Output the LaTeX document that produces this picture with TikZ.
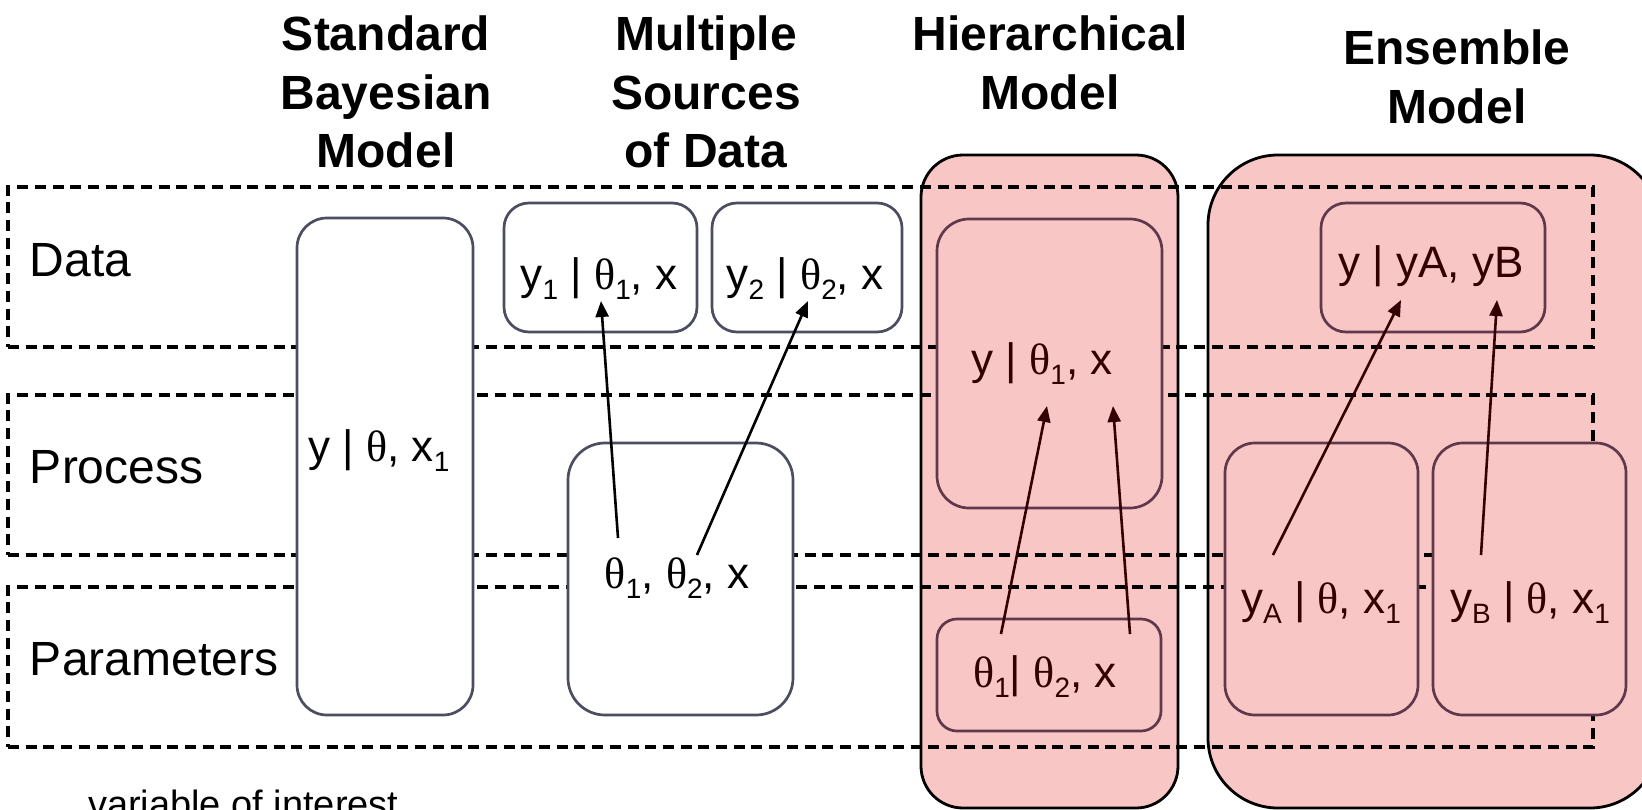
\documentclass[tikz,border=0pt]{standalone}
\usepackage{fontspec}
\setmainfont{Liberation Sans}
\newfontfamily\thfont{Liberation Serif}
\usetikzlibrary{arrows.meta,calc}
\definecolor{boxline}{RGB}{75,77,96}
\definecolor{pinkfill}{RGB}{249,198,198}
\definecolor{pinkline}{RGB}{96,56,76}
\definecolor{pinktext}{RGB}{50,0,0}
\newcommand{\thet}{{\thfont θ}}
\newcommand{\lsub}[1]{\raisebox{-10pt}{\fontsize{28}{28}\selectfont #1}}
\begin{document}
\begin{tikzpicture}[x=1pt,y=-1pt,
  every node/.style={inner sep=0pt,outer sep=0pt},
  lbl/.style={font=\fontsize{48}{57.6}\selectfont, anchor=base west},
  ttl/.style={font=\fontsize{48}{58.5}\selectfont\bfseries, align=center, anchor=north},
  band/.style={draw=black,line width=3.2pt,dash pattern=on 11pt off 6.7pt,rectangle,anchor=north west},
  wbox/.style={draw=boxline,fill=white,line width=2.7pt,rectangle,rounded corners=#1},
  bigbox/.style={draw=black,fill=pinkfill,line width=2.8pt,rectangle,rounded corners=#1},
  pbox/.style={draw=pinkline,fill=pinkfill,line width=2.7pt,rectangle,rounded corners=#1},
  btxt/.style={font=\fontsize{44}{52}\selectfont,anchor=base},
  ptxt/.style={btxt,text=pinktext},
  arr/.style={-{Triangle[length=16pt,width=13pt]},line width=2.6pt,draw=black,fill=black},
  parr/.style={arr,draw=pinktext,fill=pinktext}]
\useasboundingbox (0,0) rectangle (1642,809);
\fill[white] (0,0) rectangle (1642,809);
% big model containers
\node[bigbox=42pt, minimum width=257pt, minimum height=653pt] (hbig) at (1049.5,481.5) {};
\node[bigbox=70pt, minimum width=452pt, minimum height=653pt] (ebig) at (1434,481.5) {};
% dashed bands
\node[band, minimum width=1585pt, minimum height=160pt] (dband) at (8,187) {};
\node[band, minimum width=1585pt, minimum height=160pt] (pband) at (8,395) {};
\node[band, minimum width=1585pt, minimum height=160pt] (paband) at (8,587) {};
% band labels
\node[lbl] (ldata) at (30,276) {Data};
\node[lbl] (lproc) at (30,483) {Process};
\node[lbl] (lpar) at (30,675) {Parameters};
% titles
\node[ttl] (t1) at (386,16) {Standard\\Bayesian\\Model};
\node[ttl] (t2) at (706,16) {Multiple\\Sources\\of Data};
\node[ttl] (t3) at (1050,16) {Hierarchical\\Model};
\node[ttl] (t4) at (1457,30) {Ensemble\\Model};
% white boxes
\node[wbox=30pt, minimum width=176pt, minimum height=497pt] (sb) at (385,466.5) {};
\node[wbox=25pt, minimum width=193pt, minimum height=129pt] (y1b) at (600.5,267.5) {};
\node[wbox=25pt, minimum width=190pt, minimum height=129pt] (y2b) at (807,267.5) {};
\node[wbox=37pt, minimum width=225pt, minimum height=272pt] (thb) at (680.5,579) {};
% pink inner boxes
\node[pbox=32pt, minimum width=225pt, minimum height=289pt] (hin1) at (1049.5,363.5) {};
\node[pbox=20pt, minimum width=224pt, minimum height=112pt] (hin2) at (1049,675) {};
\node[pbox=25pt, minimum width=224pt, minimum height=129pt] (eyb) at (1433,267.5) {};
\node[pbox=30pt, minimum width=193pt, minimum height=272pt] (eab) at (1321.5,579) {};
\node[pbox=30pt, minimum width=193pt, minimum height=272pt] (ebb) at (1529.5,579) {};
% box texts
\node[btxt] (sbt) at (379,461) {y | \thet, x\lsub{1}};
\node[btxt] (y1t) at (599,289) {y\lsub{1} | \thet\lsub{1}, x};
\node[btxt] (y2t) at (805,289) {y\lsub{2} | \thet\lsub{2}, x};
\node[btxt] (tht) at (677,588) {\thet\lsub{1}, \thet\lsub{2}, x};
\node[ptxt] (hyt) at (1042,374) {y | \thet\lsub{1}, x};
\node[ptxt] (htt) at (1045,687) {\thet\lsub{1}| \thet\lsub{2}, x};
\node[ptxt] (eyt) at (1431,277) {y | yA, yB};
\node[ptxt] (eat) at (1321,613) {y\lsub{A} | \thet, x\lsub{1}};
\node[ptxt] (ebt) at (1530,613) {y\lsub{B} | \thet, x\lsub{1}};
% arrows
\draw[arr] ([shift={(-59,-50)}]tht.base) -- ([shift={(2,12)}]y1t.base);
\draw[arr] ([shift={(20,-33)}]tht.base) -- ([shift={(3,12)}]y2t.base);
\draw[parr] ([shift={(-44,-53)}]htt.base) -- ([shift={(5,32)}]hyt.base);
\draw[parr] ([shift={(85,-53)}]htt.base) -- ([shift={(71,32)}]hyt.base);
\draw[parr] ([shift={(-48,-58)}]eat.base) -- ([shift={(-30,23)}]eyt.base);
\draw[parr] ([shift={(-49,-58)}]ebt.base) -- ([shift={(66,23)}]eyt.base);
% note at bottom (cut by the page edge)
\node[lbl, font=\fontsize{38}{45}\selectfont] (note) at (88,817) {variable of interest};
\end{tikzpicture}
\end{document}
